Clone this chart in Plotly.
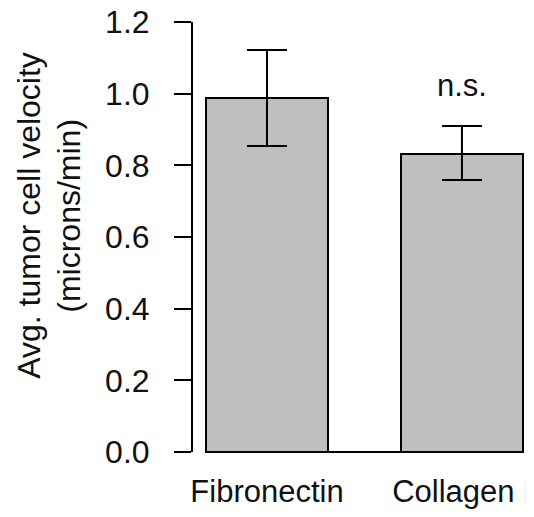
import plotly.graph_objects as go

categories = ["Fibronectin", "Collagen I"]
velocity = [0.987, 0.831]
err_upper = [0.135, 0.079]
err_lower = [0.133, 0.072]
y_ticks = [0.0, 0.2, 0.4, 0.6, 0.8, 1.0, 1.2]
y_tick_labels = ["0.0", "0.2", "0.4", "0.6", "0.8", "1.0", "1.2"]
y_title_lines = ["Avg. tumor cell velocity", "(microns/min)"]
sig_label = "n.s."

# page body has an 8px margin, so the figure is sized to fit the window
W, H = 526, 501
bar_width = 0.626
FONT = dict(family="Liberation Sans, Arial, sans-serif", size=32, color="#111111")
XFONT = dict(family="Liberation Sans, Arial, sans-serif", size=31, color="#111111")

xpos = list(range(len(categories)))

fig = go.Figure()
fig.add_trace(go.Bar(
    x=xpos, y=velocity, width=bar_width,
    marker=dict(color="#bebebe", line=dict(color="black", width=2)),
    error_y=dict(type="data", symmetric=False, array=err_upper, arrayminus=err_lower,
                 color="black", thickness=2, width=20),
    showlegend=False,
))

# baseline across bars
fig.add_shape(type="line", xref="x", yref="y",
              x0=xpos[0] - bar_width / 2, x1=xpos[-1] + bar_width / 2, y0=0, y1=0,
              line=dict(color="black", width=2))
# y axis line spanning tick range
fig.add_shape(type="line", xref="paper", yref="y", x0=0, x1=0,
              y0=y_ticks[0], y1=y_ticks[-1], line=dict(color="black", width=2))

fig.add_annotation(x=xpos[1], y=velocity[1] + err_upper[1], yshift=21, text=sig_label,
                   showarrow=False, font=XFONT, yanchor="bottom", xref="x", yref="y")

for line_text, xp in zip(y_title_lines, [-0.4822, -0.364]):
    fig.add_annotation(x=xp, y=0.547, xref="paper", yref="paper",
                       text=line_text, textangle=-90, borderpad=0,
                       showarrow=False, font=FONT, xanchor="center", yanchor="middle")

fig.update_layout(
    width=W, height=H,
    margin=dict(l=184, r=4, t=3, b=46, autoexpand=False),
    plot_bgcolor="white", paper_bgcolor="white",
    font=FONT,
    bargap=0,
)
fig.update_xaxes(range=[-0.3846, 1.349], tickvals=xpos, ticktext=categories,
                 showline=False, showgrid=False, zeroline=False, ticks="",
                 tickfont=XFONT, ticklabelstandoff=7, ticklabeloverflow="allow",
                 automargin=False)
fig.update_yaxes(range=[-0.0307, 1.2308], tickvals=y_ticks, ticktext=y_tick_labels,
                 showline=False, showgrid=False, zeroline=False,
                 ticks="outside", ticklen=17, tickwidth=2, tickcolor="black",
                 tickfont=FONT, ticklabelstandoff=18, ticklabeloverflow="allow",
                 automargin=False)

fig.write_html("out.html")
